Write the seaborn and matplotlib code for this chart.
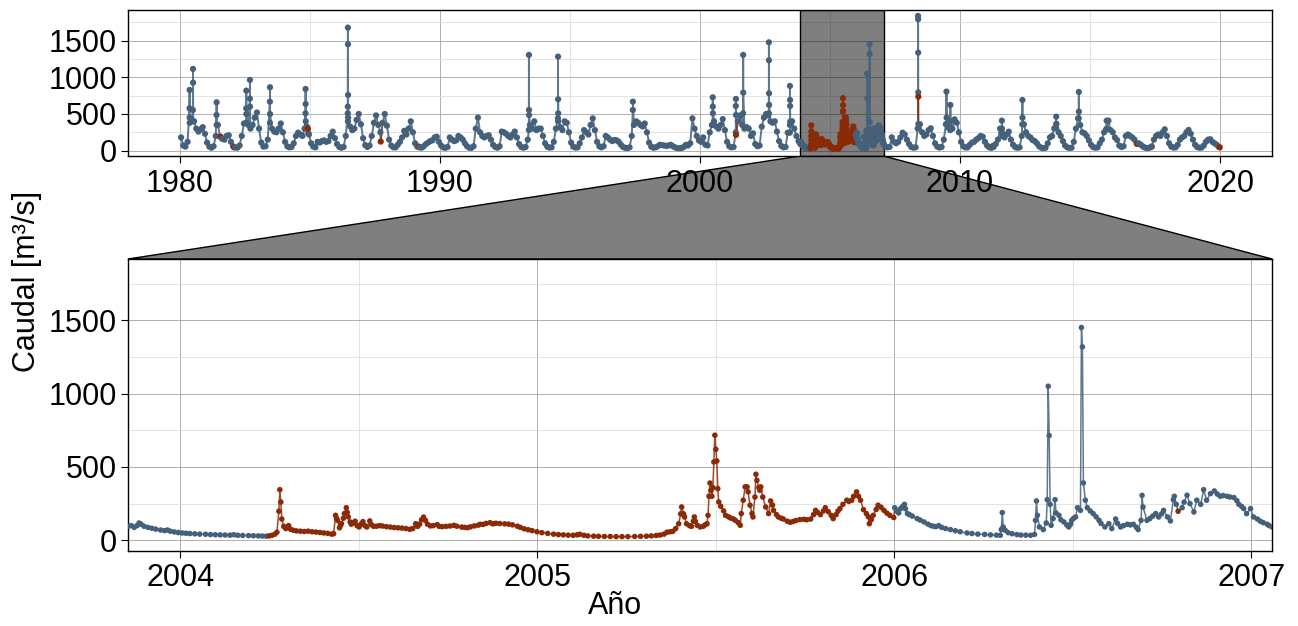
import numpy as np
import pandas as pd
import matplotlib
matplotlib.use("Agg")
import matplotlib.pyplot as plt
from matplotlib.patches import Polygon
from matplotlib.ticker import MultipleLocator, FormatStrFormatter
import seaborn as sns

sns.set_theme(style="white")
plt.rcParams["font.family"] = ["Liberation Sans", "DejaVu Sans"]

COLOR_OBS = "#44607a"
COLOR_REL = "#8b2a07"
PALETA = {"Observado": COLOR_OBS, "Relleno": COLOR_REL}

# ---------------------------------------------------------------- data
# Monthly flow levels (m3/s), Jan..Dec, 1980 .. Oct 2003
mensual_1980_2003 = [
    [180, 70, 55, 120, 380, 420, 400, 300, 260, 290, 320, 230],
    [110, 55, 40, 60, 200, 350, 190, 160, 150, 200, 210, 120],
    [60, 45, 40, 70, 200, 370, 380, 350, 300, 350, 450, 520],
    [300, 110, 55, 60, 150, 380, 300, 260, 250, 300, 370, 250],
    [120, 60, 45, 50, 100, 200, 245, 220, 200, 300, 330, 220],
    [100, 55, 45, 120, 110, 130, 140, 120, 130, 200, 259, 170],
    [90, 50, 40, 50, 200, 400, 330, 280, 300, 420, 500, 360],
    [170, 75, 50, 70, 200, 380, 480, 350, 250, 380, 500, 340],
    [150, 70, 45, 45, 80, 120, 180, 270, 220, 300, 400, 250],
    [100, 55, 45, 40, 60, 90, 110, 130, 140, 180, 190, 120],
    [70, 45, 38, 50, 180, 150, 130, 140, 200, 180, 150, 100],
    [60, 40, 38, 60, 300, 450, 250, 200, 180, 200, 210, 150],
    [80, 50, 40, 60, 260, 250, 230, 200, 180, 220, 260, 180],
    [90, 50, 40, 50, 150, 350, 300, 400, 280, 300, 300, 200],
    [100, 55, 42, 45, 120, 300, 400, 320, 280, 400, 380, 250],
    [110, 55, 42, 45, 100, 180, 280, 250, 220, 350, 440, 280],
    [120, 60, 45, 60, 200, 180, 150, 130, 145, 140, 120, 80],
    [50, 38, 35, 45, 200, 350, 400, 380, 350, 330, 370, 250],
    [110, 55, 40, 45, 60, 80, 75, 70, 65, 70, 80, 60],
    [45, 35, 32, 35, 50, 80, 70, 100, 440, 300, 200, 140],
    [120, 180, 80, 70, 250, 350, 400, 330, 300, 350, 430, 280],
    [120, 60, 45, 50, 250, 400, 480, 350, 300, 320, 300, 200],
    [236, 90, 60, 70, 327, 450, 500, 480, 400, 380, 400, 260],
    [130, 65, 45, 50, 245, 350, 400, 300, 200, 130],
]
# Monthly flow levels, Feb 2007 .. Dec 2019
mensual_2007_2019 = [
    [55, 45, 50, 182, 120, 100, 120, 180, 245, 220, 150],
    [90, 50, 40, 45, 300, 360, 250, 200, 220, 280, 305, 200],
    [100, 55, 42, 50, 150, 360, 314, 280, 300, 427, 380, 250],
    [120, 60, 45, 45, 80, 109, 120, 150, 170, 200, 190, 120],
    [70, 45, 38, 50, 90, 150, 300, 200, 180, 220, 259, 150],
    [80, 48, 40, 45, 200, 359, 250, 200, 180, 145, 130, 100],
    [60, 40, 35, 40, 100, 180, 200, 305, 364, 250, 200, 130],
    [70, 45, 38, 40, 120, 300, 441, 350, 250, 236, 200, 140],
    [80, 48, 40, 45, 100, 150, 250, 291, 409, 280, 250, 180],
    [145, 70, 50, 60, 200, 220, 200, 180, 150, 100, 100, 80],
    [55, 40, 35, 40, 55, 150, 200, 220, 200, 250, 291, 200],
    [100, 55, 42, 45, 80, 150, 180, 200, 250, 282, 230, 150],
    [80, 48, 40, 42, 70, 120, 150, 155, 120, 100, 80, 50],
]

# Daily values of the main floods (decimal year, m3/s)
picos_t = [1980.365, 1980.368, 1980.371,
           1980.497, 1980.500, 1980.503, 1980.506,
           1981.405, 1981.408, 1981.411,
           1982.547, 1982.550, 1982.553,
           1982.687, 1982.690, 1982.693,
           1983.457, 1983.460, 1983.463,
           1984.827, 1984.830, 1984.833, 1984.836,
           1986.452, 1986.455, 1986.458, 1986.461, 1986.464, 1986.467,
           1993.417, 1993.420, 1993.423, 1993.426,
           1994.537, 1994.540, 1994.543, 1994.546,
           1997.417, 1997.420,
           2000.487, 2000.490, 2000.493, 2000.496,
           2001.377, 2001.380, 2001.383,
           2001.657, 2001.660, 2001.663,
           2002.647, 2002.650, 2002.653, 2002.656, 2002.659,
           2003.457, 2003.460, 2003.463, 2003.466, 2003.469,
           2008.383, 2008.386, 2008.389, 2008.392, 2008.394, 2008.400,
           2009.477, 2009.480, 2009.483,
           2009.627, 2009.630, 2009.633,
           2011.607, 2011.610, 2011.613,
           2012.397, 2012.400, 2012.403,
           2013.697, 2013.700, 2013.703,
           2014.567, 2014.570, 2014.573,
           2015.637, 2015.640, 2015.643]
picos_v = [577, 827, 450,
           555, 1114, 927, 400,
           486, 659, 350,
           577, 818, 500,
           709, 964, 600,
           668, 864, 500,
           509, 841, 636, 400,
           509, 600, 1677, 1450, 759, 450,
           282, 1305, 555, 486,
           441, 1282, 700, 509,
           555, 668,
           350, 727, 600, 509,
           609, 705, 486,
           509, 1305, 791,
           509, 1477, 1232, 782, 623,
           245, 882, 691, 609, 395,
           305, 1836, 1791, 1336, 795, 364,
           359, 805, 450,
           314, 623, 400,
           250, 409, 300,
           359, 691, 450,
           305, 464, 364,
           441, 800, 532,
           291, 409, 300]

# Daily record, Nov 2003 - Jan 2007 (days counted from 2004-01-01)
dias_detalle = [
    -53, -50, -47, -44, -42, -40, -37, -33, -29, -25, -20, -16, -13, -10, -6, -2,
    2, 6, 10, 15, 20, 26, 31, 36, 41, 46, 51, 55, 59, 64, 70, 75, 80, 84, 88,
    91, 94, 97, 99, 101, 102, 103, 104, 106, 108, 110, 111, 113, 116, 119, 123,
    127, 131, 135, 139, 143, 147, 151, 155, 157, 159, 160, 161, 163, 164, 165,
    167, 168, 170, 171, 172, 174, 175, 177, 179, 181, 183, 185, 187, 189, 191,
    194, 196, 198, 201, 204, 207, 211, 215, 219, 223, 227, 231, 235, 238, 241,
    243, 245, 247, 249, 251, 253, 256, 259, 263, 265, 268, 272, 276, 280, 283,
    288, 291, 294, 297, 301, 305, 307, 310, 313, 317, 320, 323, 327, 332, 336,
    340, 345, 348, 352, 356, 360, 365, 370, 376, 382, 387, 392, 397, 402, 406,
    409, 413, 417, 423, 428, 434, 440, 446, 452, 458, 465, 471, 477, 482, 487,
    491, 495, 498, 501, 504, 507, 510, 512, 513, 515, 516, 518, 521, 523, 525,
    526, 527, 529, 532, 535, 537, 539, 540, 541, 542, 543, 544, 545, 546, 547,
    548, 549, 550, 551, 553, 556, 558, 561, 563, 566, 568, 571, 573, 574, 576,
    578, 580, 581, 583, 585, 586, 588, 589, 590, 592, 593, 594, 596, 599, 602,
    604, 606, 607, 610, 612, 615, 617, 621, 624, 627, 630, 634, 638, 641, 645,
    648, 650, 652, 655, 658, 660, 663, 666, 668, 671, 673, 675, 678, 682, 684,
    687, 689, 692, 694, 696, 699, 702, 704, 705, 707, 709, 712, 714, 717, 720,
    723, 726, 730,
    731, 733, 735, 737, 739, 741, 742, 744, 746, 749, 754, 757, 761, 765, 768,
    771, 773, 776, 779, 783, 788, 793, 798, 805, 810, 816, 823, 829, 835, 839,
    840, 841, 842, 844, 847, 851, 856, 860, 865, 870, 874, 875, 876, 877, 879,
    883, 886, 887, 888, 889, 890, 891, 893, 895, 896, 899, 901, 904, 907, 909,
    911, 912, 914, 916, 918, 921, 922, 923, 924, 926, 928, 931, 934, 937, 940,
    942, 946, 950, 953, 957, 959, 962, 965, 969, 972, 975, 978, 980, 983, 984,
    985, 989, 992, 995, 998, 1001, 1004, 1006, 1010, 1013, 1016, 1017, 1019,
    1025, 1027, 1030, 1033, 1037, 1040, 1044, 1047, 1050, 1054, 1058, 1061,
    1064, 1067, 1071, 1074, 1078, 1081, 1083, 1086, 1088, 1091, 1095, 1098,
    1102, 1105, 1108, 1112, 1114, 1117, 1121]
caudal_detalle = [
    95, 100, 88, 100, 118, 110, 96, 88, 82, 76, 70, 66, 70, 62, 57, 53,
    50, 48, 46, 44, 42, 41, 39, 38, 37, 36, 35, 38, 34, 33, 32, 31, 30, 29, 28,
    30, 34, 42, 55, 198, 345, 261, 145, 95, 80, 92, 100, 75, 68, 64, 62,
    60, 62, 58, 56, 53, 50, 47, 42, 45, 170, 150, 136, 85, 100, 113,
    150, 182, 222, 190, 160, 125, 110, 118, 130, 100, 91, 110, 127, 100, 91,
    132, 105, 95, 96, 100, 97, 93, 90, 87, 85, 83, 80, 75, 80, 113,
    95, 110, 140, 158, 135, 110, 98, 100, 107, 95, 93, 95, 97, 102, 96,
    90, 88, 86, 92, 98, 103, 109, 108, 115, 120, 112, 116, 114, 112, 110,
    105, 96, 88, 78, 72, 66, 58, 52, 47, 42, 39, 37, 35, 34, 37,
    41, 34, 30, 28, 27, 26, 26, 25, 25, 25, 26, 27, 28, 30, 33,
    36, 42, 55, 58, 61, 80, 113, 180, 227, 180, 159, 113, 100, 95, 130,
    159, 130, 102, 91, 95, 105, 113, 170, 300, 390, 340, 300, 359, 534, 716,
    620, 541, 352, 261, 232, 200, 170, 160, 152, 145, 136, 120, 102, 182, 273,
    364, 364, 330, 239, 182, 159, 295, 450, 409, 360, 341, 364, 295, 227, 182,
    268, 240, 204, 175, 159, 150, 145, 130, 123, 128, 135, 141, 143, 140, 145,
    175, 204, 190, 175, 200, 222, 195, 170, 148, 175, 200, 216, 245, 273, 265,
    273, 300, 330, 300, 273, 209, 182, 160, 113, 140, 170, 210, 239, 225, 204,
    185, 170, 155,
    222, 200, 186, 216, 230, 245, 215, 182, 175, 165, 148, 138, 125, 110, 100,
    95, 93, 100, 88, 80, 73, 65, 58, 50, 46, 42, 40, 37, 35, 34,
    73, 189, 90, 68, 52, 45, 39, 36, 35, 34, 40, 136, 268, 170, 91,
    73, 118, 277, 1050, 714, 245, 102, 148, 277, 186, 170, 140, 125, 105, 91,
    110, 136, 150, 159, 222, 204, 1450, 1318, 391, 273, 222, 200, 182, 160, 136,
    115, 91, 113, 80, 145, 115, 91, 100, 109, 105, 109, 90, 73, 136, 306,
    227, 136, 148, 165, 182, 159, 180, 204, 159, 132, 277, 300, 245,
    222, 260, 307, 250, 193, 273, 245, 345, 273, 318, 336, 315,
    300, 305, 300, 295, 291, 270, 245, 230, 216, 182, 216, 159,
    145, 130, 120, 109, 100, 91, 85]

# Gap-filled values
relleno_t = [1981.56, 1982.08, 1984.92, 1984.935, 1987.72, 1989.19, 2001.386,
             2006.795, 2008.397, 2011.27, 2016.81, 2017.37, 2019.99]
relleno_v = [190, 45, 300, 236, 123, 55, 214, 198, 736, 64, 91, 55, 45]
periodo_relleno = (2004.245, 2006.0)

# Zoomed window
ventana = (2003.854, 2007.058)

# ---------------------------------------------------------------- table
filas = []
for i, fila in enumerate(mensual_1980_2003):
    anio = 1980 + i
    for m, v in enumerate(fila):
        filas.append((anio + (m + 0.5) / 12, v, "Observado"))
for i, fila in enumerate(mensual_2007_2019):
    anio = 2007 + i
    inicio = 12 - len(fila)
    for k, v in enumerate(fila):
        filas.append((anio + (inicio + k + 0.5) / 12, v, "Observado"))
for t, v in zip(picos_t, picos_v):
    filas.append((t, v, "Observado"))
for d, v in zip(dias_detalle, caudal_detalle):
    t = 2004 + d / 365.25
    tipo = "Relleno" if periodo_relleno[0] <= t < periodo_relleno[1] else "Observado"
    filas.append((t, v, tipo))
for t, v in zip(relleno_t, relleno_v):
    filas.append((t, v, "Relleno"))

serie = pd.DataFrame(filas, columns=["anio", "caudal", "tipo"])
serie = serie.sort_values("anio").reset_index(drop=True)
serie["tramo"] = (serie["tipo"] != serie["tipo"].shift()).cumsum()

# each stretch of the path keeps the colour of its starting point
partes = []
for tramo, g in serie.groupby("tramo", sort=True):
    nxt = serie[serie["tramo"] == tramo + 1].head(1).copy()
    nxt["tipo"] = g["tipo"].iloc[0]
    nxt["tramo"] = tramo
    partes.append(pd.concat([g, nxt]))
lineas = pd.concat(partes, ignore_index=True)

# ---------------------------------------------------------------- figure
W, H = 1298, 626
fig = plt.figure(figsize=(W / 100, H / 100), dpi=100)
ax_top = fig.add_axes([128 / W, 1 - 156 / H, 1144 / W, 146 / H])
ax_bot = fig.add_axes([128 / W, 1 - 551 / H, 1144 / W, 292 / H])

YLIM = (-73, 1917)


def dibujar(ax, s, lw):
    sns.lineplot(data=lineas, x="anio", y="caudal", hue="tipo", units="tramo",
                 estimator=None, sort=False, palette=PALETA, linewidth=lw,
                 alpha=0.85, legend=False, ax=ax, zorder=2)
    sns.scatterplot(data=serie, x="anio", y="caudal", hue="tipo", palette=PALETA,
                    s=s, linewidth=0, legend=False, ax=ax, zorder=3)


def estilo(ax, xmaj, xmin):
    ax.set_ylim(*YLIM)
    ax.set_axisbelow(True)
    ax.xaxis.set_major_locator(MultipleLocator(xmaj))
    ax.xaxis.set_minor_locator(MultipleLocator(xmin))
    ax.xaxis.set_major_formatter(FormatStrFormatter("%d"))
    ax.yaxis.set_major_locator(MultipleLocator(500))
    ax.yaxis.set_minor_locator(MultipleLocator(250))
    ax.grid(which="major", color="#a3a3a3", linewidth=0.6)
    ax.grid(which="minor", color="#dedede", linewidth=0.6)
    ax.tick_params(which="major", direction="out", length=5, width=0.8,
                   color="black", labelsize=22, labelcolor="black", pad=3)
    ax.tick_params(which="minor", length=0)
    ax.tick_params(axis="x", pad=4)
    ax.tick_params(bottom=True, left=True)
    for sp in ax.spines.values():
        sp.set_color("black")
        sp.set_linewidth(1.0)
    ax.set_xlabel("")
    ax.set_ylabel("")


dibujar(ax_top, 20, 1.4)
ax_top.set_xlim(1978.0, 2022.0)
estilo(ax_top, 10, 5)
ax_top.axvspan(*ventana, facecolor=(0, 0, 0, 0.5), edgecolor="black",
               linewidth=1.0, zorder=1.5)

dibujar(ax_bot, 16, 1.1)
ax_bot.set_xlim(*ventana)
estilo(ax_bot, 1, 0.5)

# connector between the highlighted span and the zoomed panel
inv = fig.transFigure.inverted()
p1 = inv.transform(ax_top.get_xaxis_transform().transform((ventana[0], 0)))
p2 = inv.transform(ax_top.get_xaxis_transform().transform((ventana[1], 0)))
p3 = inv.transform(ax_bot.transAxes.transform((1, 1)))
p4 = inv.transform(ax_bot.transAxes.transform((0, 1)))
fig.add_artist(Polygon([p1, p2, p3, p4], closed=True, transform=fig.transFigure,
                       facecolor="#7f7f7f", edgecolor="black", linewidth=1.0,
                       zorder=-1))

fig.text(27 / W, 1 - 281 / H, "Caudal [m³/s]", rotation=90, ha="center",
         va="center", fontsize=22, color="black")
fig.text(615 / W, 1 - 606 / H, "Año", ha="center", va="center", fontsize=22,
         color="black")

fig.savefig("out.png", dpi=100, facecolor="white")
